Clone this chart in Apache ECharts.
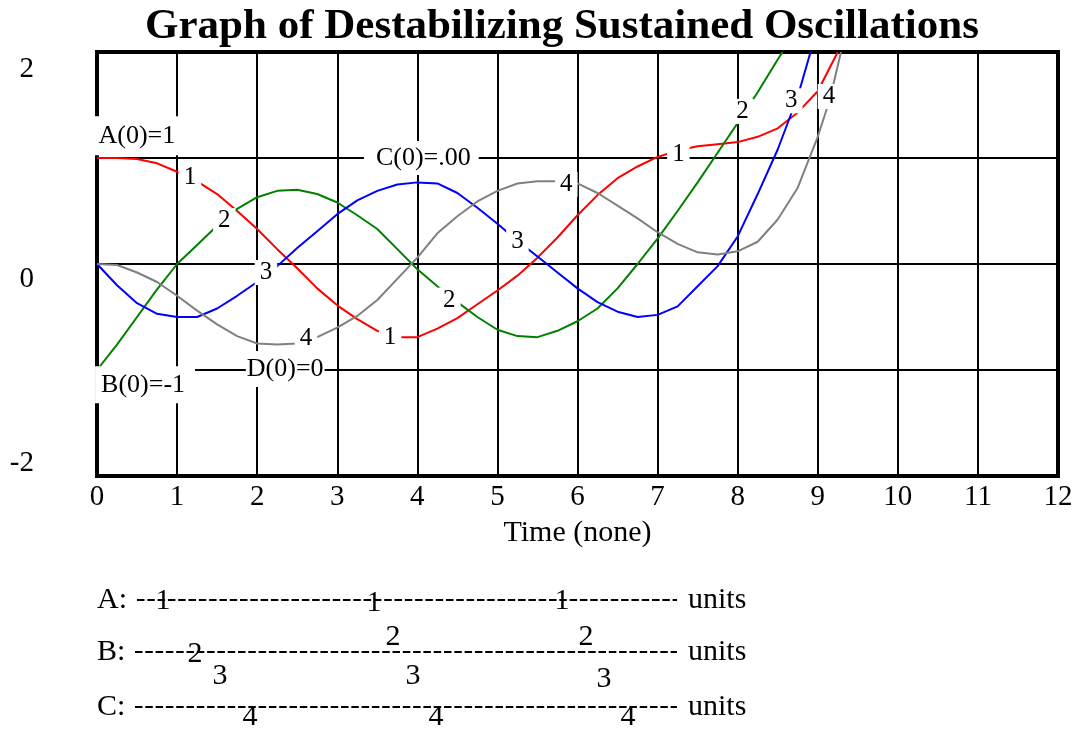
<!DOCTYPE html>
<html>
<head>
<meta charset="utf-8">
<title>Graph of Destabilizing Sustained Oscillations</title>
<script src="https://cdn.jsdelivr.net/npm/echarts@6/dist/echarts.min.js"></script>
<style>
  html, body { margin: 0; padding: 0; background: #fff; }
  #chart { width: 1086px; height: 730px; }
</style>
</head>
<body>
<div id="chart"></div>
<script>
// ---- text ----
const titleText = 'Graph of Destabilizing Sustained Oscillations';
const xAxisName = 'Time (none)';
const xTickLabels = ['0', '1', '2', '3', '4', '5', '6', '7', '8', '9', '10', '11', '12'];
const yTickLabels = { '2': '2', '0': '0', '-2': '-2' };
const curveNumbers = ['1', '2', '3', '4'];
const initialLabels = ['A(0)=1', 'B(0)=-1', 'C(0)=.00', 'D(0)=0'];
const scaleRowNames = ['A:', 'B:', 'C:'];
const scaleUnit = 'units';

// ---- simulated values, sampled every 0.25 time units ----
const times = [0, 0.25, 0.5, 0.75, 1, 1.25, 1.5, 1.75, 2, 2.25, 2.5, 2.75, 3, 3.25, 3.5, 3.75,
  4, 4.25, 4.5, 4.75, 5, 5.25, 5.5, 5.75, 6, 6.25, 6.5, 6.75, 7, 7.25, 7.5, 7.75, 8, 8.25, 8.5];

const valuesA = [1.00, 1.00, 0.99, 0.95, 0.87, 0.78, 0.66, 0.50, 0.33, 0.14, -0.04, -0.23, -0.39, -0.52, -0.63, -0.69,
  -0.69, -0.61, -0.51, -0.38, -0.25, -0.11, 0.06, 0.25, 0.46, 0.65, 0.81, 0.92, 1.01, 1.07, 1.11, 1.13, 1.15, 1.20, 1.28];
const valuesB = [-1.00, -0.76, -0.50, -0.24, 0.00, 0.18, 0.36, 0.52, 0.63, 0.69, 0.70, 0.66, 0.58, 0.46, 0.33, 0.14,
  -0.05, -0.21, -0.36, -0.50, -0.62, -0.68, -0.69, -0.63, -0.54, -0.42, -0.23, 0.00, 0.24, 0.50, 0.77, 1.05, 1.33, 1.62, 1.93];
const valuesC = [0.00, -0.20, -0.37, -0.47, -0.50, -0.50, -0.42, -0.30, -0.17, -0.02, 0.15, 0.31, 0.47, 0.60, 0.69, 0.75,
  0.77, 0.76, 0.67, 0.53, 0.38, 0.22, 0.07, -0.08, -0.23, -0.36, -0.45, -0.50, -0.48, -0.40, -0.21, -0.02, 0.26, 0.66, 1.08];
const valuesD = [0.00, -0.01, -0.08, -0.17, -0.30, -0.44, -0.57, -0.68, -0.75, -0.76, -0.75, -0.69, -0.60, -0.49, -0.34, -0.14,
  0.06, 0.29, 0.45, 0.59, 0.69, 0.76, 0.78, 0.78, 0.76, 0.67, 0.55, 0.43, 0.30, 0.19, 0.11, 0.09, 0.12, 0.21, 0.42];

// last stretch of each run, up to where it leaves the top of the scale
const tailTimesA = [8.75, 9.0, 9.25];
const tailValuesA = [1.43, 1.63, 2.0];
const tailTimesB = [8.56];
const tailValuesB = [2.0];
const tailTimesC = [8.75, 8.91];
const tailValuesC = [1.58, 2.0];
const tailTimesD = [8.75, 9.0, 9.15, 9.29];
const tailValuesD = [0.72, 1.20, 1.55, 2.0];

// where the curve numbers sit on each run [time, value]
const markersA = [[1.16, 0.82], [3.66, -0.69], [7.26, 1.03]];
const markersB = [[1.59, 0.41], [4.40, -0.34], [8.06, 1.44]];
const markersC = [[2.11, -0.08], [5.25, 0.21], [8.67, 1.54]];
const markersD = [[2.61, -0.70], [5.86, 0.75], [9.14, 1.58]];

// ---- layout & style ----
const SERIF = "'Liberation Serif', 'Times New Roman', serif";
const colors = ['#ff0000', '#008000', '#0000ff', '#808080'];

// initial-value callouts: anchor in data space plus box padding
const initialLayout = [
  { at: [0.51, 1.21], padding: [7, 8, 6, 6] },
  { at: [0.60, -1.14], padding: [2, 10, 9, 6] },
  { at: [4.05, 1.00], padding: [4, 8, 4, 12] },
  { at: [2.35, -0.99], padding: [4, 1, 6, 1] }
];

// scale strip below the chart
const scaleLayout = {
  nameX: 97,
  rowY: [600, 652, 707],
  dashStart: [137, 135, 135],
  dashEnd: 677,
  unitX: 688,
  marks: [
    [['1', 163, 601], ['1', 374, 603], ['1', 562, 601]],
    [['2', 195, 654], ['3', 220, 676], ['2', 393, 637], ['3', 413, 676], ['2', 586, 637], ['3', 604, 679]],
    [['4', 250, 717], ['4', 436, 717], ['4', 628, 717]]
  ]
};

function pairs(ts, vs, tailT, tailV) {
  const out = ts.map((t, i) => [t, vs[i]]);
  tailT.forEach((t, i) => out.push([t, tailV[i]]));
  return out;
}

const runs = [
  pairs(times, valuesA, tailTimesA, tailValuesA),
  pairs(times, valuesB, tailTimesB, tailValuesB),
  pairs(times, valuesC, tailTimesC, tailValuesC),
  pairs(times, valuesD, tailTimesD, tailValuesD)
];
const markers = [markersA, markersB, markersC, markersD];

// invisible anchor points that only carry a text box
const anchorStyle = { color: 'rgba(255,255,255,0)', opacity: 1 };

const series = [];
runs.forEach((data, i) => {
  series.push({
    type: 'line',
    data: data,
    showSymbol: false,
    symbol: 'none',
    clip: true,
    z: 3,
    lineStyle: { color: colors[i], width: 2 },
    silent: true
  });
});
markers.forEach((pts, i) => {
  series.push({
    type: 'scatter',
    data: pts,
    symbolSize: 1,
    itemStyle: anchorStyle,
    z: 10,
    silent: true,
    label: {
      show: true,
      position: 'inside',
      formatter: () => curveNumbers[i],
      color: '#000',
      opacity: 1,
      fontFamily: SERIF,
      fontSize: 25,
      backgroundColor: '#fff',
      padding: [0, 5]
    }
  });
});
series.push({
  type: 'scatter',
  symbolSize: 1,
  itemStyle: anchorStyle,
  z: 9,
  silent: true,
  data: initialLabels.map((txt, i) => ({
    value: initialLayout[i].at,
    name: txt,
    label: { padding: initialLayout[i].padding }
  })),
  label: {
    show: true,
    position: 'inside',
    formatter: p => p.name,
    color: '#000',
    opacity: 1,
    fontFamily: SERIF,
    fontSize: 26,
    backgroundColor: '#fff'
  }
});

// scale strip graphics
const graphic = [];
scaleRowNames.forEach((name, r) => {
  const y = scaleLayout.rowY[r];
  graphic.push({
    type: 'text', x: scaleLayout.nameX, y: y,
    style: { text: name, fontFamily: SERIF, fontSize: 30, fill: '#000', align: 'left', verticalAlign: 'middle' }
  });
  graphic.push({
    type: 'line',
    shape: { x1: scaleLayout.dashStart[r], y1: y, x2: scaleLayout.dashEnd, y2: y },
    style: { stroke: '#000', lineWidth: 2, lineDash: [7.5, 2.8] }
  });
  graphic.push({
    type: 'text', x: scaleLayout.unitX, y: y,
    style: { text: scaleUnit, fontFamily: SERIF, fontSize: 30, fill: '#000', align: 'left', verticalAlign: 'middle' }
  });
  scaleLayout.marks[r].forEach(m => {
    graphic.push({
      type: 'text', x: m[1], y: m[2],
      style: { text: m[0], fontFamily: SERIF, fontSize: 30, fill: '#000', align: 'center', verticalAlign: 'middle' }
    });
  });
});

const chart = echarts.init(document.getElementById('chart'), null, { renderer: 'canvas' });
chart.setOption({
  animation: false,
  backgroundColor: '#fff',
  title: {
    text: titleText,
    left: 557,
    top: 0,
    textAlign: 'center',
    textStyle: { fontFamily: SERIF, fontSize: 43, fontWeight: 'bold', color: '#000' }
  },
  grid: {
    left: 97, right: 28, top: 52, bottom: 254,
    show: true,
    borderColor: '#000',
    borderWidth: 4,
    backgroundColor: 'rgba(0,0,0,0)',
    containLabel: false,
    outerBoundsMode: 'none'
  },
  xAxis: {
    type: 'value',
    min: 0, max: 12, interval: 1,
    axisLine: { show: false },
    axisTick: { show: false },
    splitLine: { show: true, lineStyle: { color: '#000', width: 2 } },
    axisLabel: {
      showMinLabel: true, showMaxLabel: true,
      margin: 7,
      color: '#000', fontFamily: SERIF, fontSize: 29,
      formatter: v => xTickLabels[Math.round(v)]
    },
    name: xAxisName,
    nameLocation: 'middle',
    nameGap: 42,
    nameTextStyle: { color: '#000', fontFamily: SERIF, fontSize: 30 }
  },
  yAxis: {
    type: 'value',
    min: -2, max: 2, interval: 1,
    axisLine: { show: false },
    axisTick: { show: false },
    splitLine: { show: true, lineStyle: { color: '#000', width: 2 } },
    axisLabel: {
      showMinLabel: true, showMaxLabel: true,
      margin: 63,
      color: '#000', fontFamily: SERIF, fontSize: 29,
      formatter: v => {
        const t = yTickLabels[String(v)];
        if (t === undefined) return '';
        if (v > 0) return '{hi|' + t + '}';
        if (v < 0) return '{lo|' + t + '}';
        return '{mid|' + t + '}';
      },
      rich: {
        hi: { fontFamily: SERIF, fontSize: 29, color: '#000', padding: [34, 0, 0, 0] },
        mid: { fontFamily: SERIF, fontSize: 29, color: '#000', padding: [30, 0, 0, 0] },
        lo: { fontFamily: SERIF, fontSize: 29, color: '#000', padding: [0, 0, 26, 0] }
      }
    }
  },
  graphic: graphic,
  series: series
});
</script>
</body>
</html>
